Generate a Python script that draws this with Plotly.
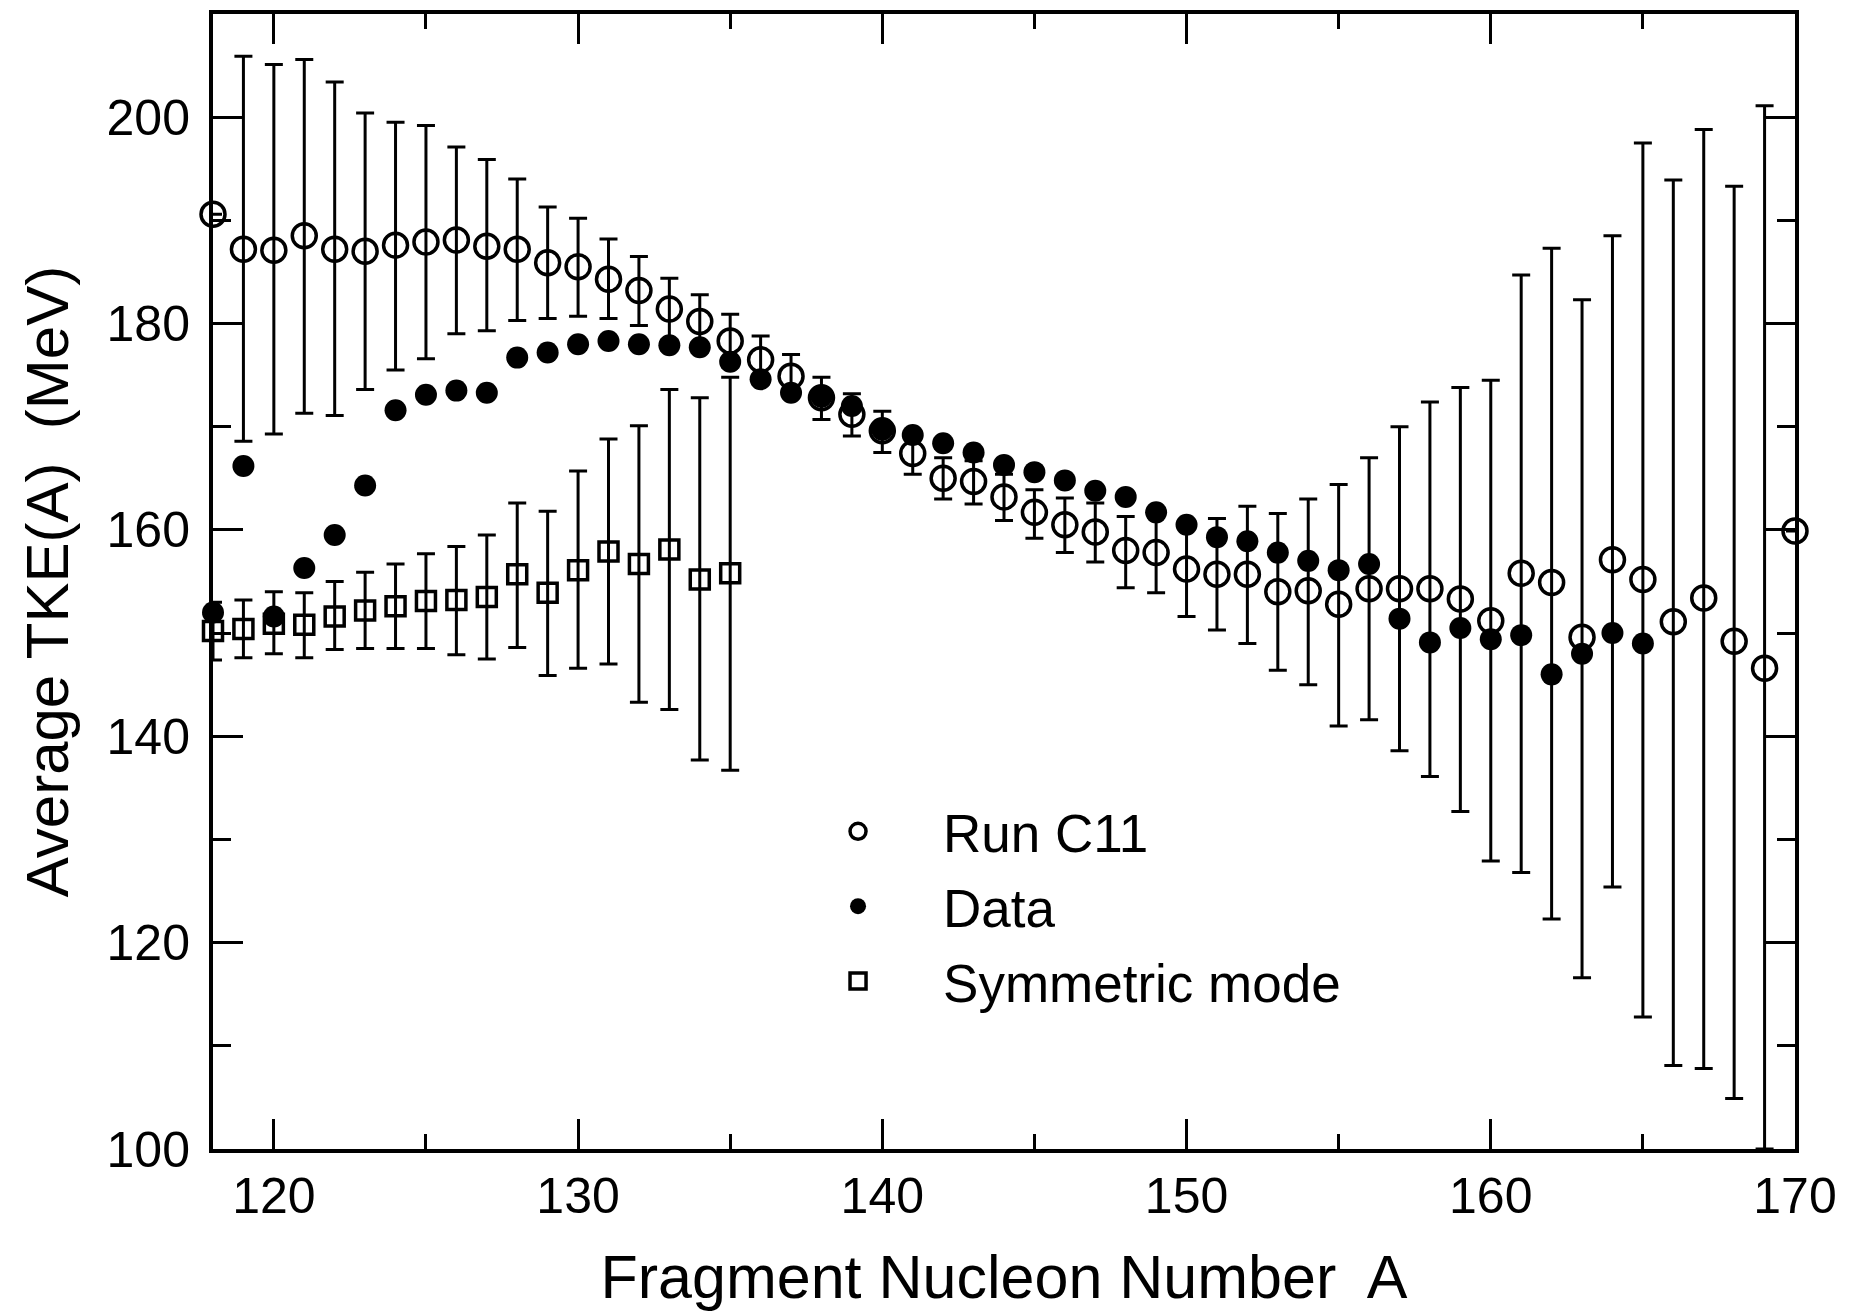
import plotly.graph_objects as go

# ---- Run C11 (model), A = 118 .. 170 ----
a_c11 = list(range(118, 171))
tke_c11 = [190.6, 187.2, 187.1, 188.5, 187.2, 187.0, 187.6, 187.9, 188.1, 187.5,
           187.2, 185.9, 185.5, 184.3, 183.2, 181.4, 180.2, 178.3, 176.5, 174.9,
           172.8, 171.2, 169.6, 167.4, 165.0, 164.7, 163.2, 161.7, 160.5, 159.8,
           158.0, 157.8, 156.2, 155.7, 155.7, 154.0, 154.1, 152.8, 154.3, 154.3,
           154.3, 153.3, 151.2, 155.8, 154.9, 149.6, 157.1, 155.2, 151.1, 153.4,
           149.2, 146.6, 159.9]
c11_high = [190.6, 205.9, 205.1, 205.6, 203.4, 200.4, 199.5, 199.2, 197.1, 195.9,
            194.0, 191.3, 190.2, 188.2, 186.5, 184.4, 182.8, 180.9, 178.8, 177.0,
            174.8, 173.2, 171.5, 169.4, 167.0, 166.7, 165.4, 163.9, 163.1, 162.6,
            161.3, 161.7, 160.8, 161.1, 162.3, 161.6, 163.0, 164.4, 167.0, 170.0,
            172.4, 173.8, 174.5, 184.7, 187.3, 182.3, 188.5, 197.5, 193.9, 198.8,
            193.3, 201.1, 159.9]
c11_low = [190.6, 168.6, 169.3, 171.3, 171.1, 173.6, 175.5, 176.6, 179.0, 179.3,
           180.3, 180.5, 180.7, 180.5, 179.8, 178.4, 177.6, 175.8, 174.2, 172.8,
           170.7, 169.1, 167.5, 165.4, 163.0, 162.5, 160.9, 159.2, 157.8, 156.9,
           154.4, 153.9, 151.6, 150.3, 149.0, 146.4, 145.0, 141.0, 141.6, 138.6,
           136.1, 132.7, 127.9, 126.8, 122.3, 116.6, 125.4, 112.8, 108.1, 107.8,
           104.9, 100.0, 159.9]

# ---- Measured data, A = 118 .. 165 ----
a_data = list(range(118, 166))
tke_data = [152.0, 166.2, 151.6, 156.3, 159.5, 164.3, 171.6, 173.1, 173.5, 173.3,
            176.7, 177.2, 178.0, 178.3, 178.0, 177.9, 177.7, 176.3, 174.6, 173.3,
            172.9, 172.0, 169.7, 169.2, 168.4, 167.5, 166.3, 165.6, 164.8, 163.8,
            163.2, 161.7, 160.5, 159.3, 158.9, 157.8, 157.0, 156.1, 156.7, 151.4,
            149.1, 150.5, 149.4, 149.8, 146.0, 148.0, 150.0, 149.0]

# ---- Symmetric mode, A = 118 .. 135 ----
a_sym = list(range(118, 136))
tke_sym = [150.2, 150.4, 150.9, 150.8, 151.6, 152.2, 152.6, 153.1, 153.2, 153.5,
           155.7, 153.9, 156.1, 157.9, 156.7, 158.1, 155.2, 155.8]
sym_high = [153.0, 153.2, 154.0, 153.9, 155.0, 155.9, 156.7, 157.7, 158.4, 159.5,
            162.6, 161.8, 165.7, 168.8, 170.1, 173.6, 172.8, 174.8]
sym_low = [147.4, 147.6, 148.0, 147.6, 148.4, 148.5, 148.5, 148.5, 147.9, 147.5,
           148.6, 145.9, 146.6, 147.0, 143.3, 142.6, 137.7, 136.7]

x_ticks = [120, 130, 140, 150, 160, 170]
y_ticks = [100, 120, 140, 160, 180, 200]

FONT = "Liberation Sans, Arial, Helvetica, sans-serif"
BLACK = "#000000"


def err(center, high, low):
    return dict(
        type="data", symmetric=False,
        array=[h - c for c, h in zip(center, high)],
        arrayminus=[c - l for c, l in zip(center, low)],
        color=BLACK, thickness=3, width=9,
    )


fig = go.Figure()

fig.add_trace(go.Scatter(
    x=a_c11, y=tke_c11, mode="markers", name="Run C11",
    legendgroup="c11",
    marker=dict(symbol="circle-open", size=24, color=BLACK, line=dict(width=3.5, color=BLACK)),
    error_y=err(tke_c11, c11_high, c11_low),
    cliponaxis=False,
))

fig.add_trace(go.Scatter(
    x=a_data, y=tke_data, mode="markers", name="Data",
    legendgroup="data",
    marker=dict(symbol="circle", size=22, color=BLACK, line=dict(width=0)),
    cliponaxis=False,
))

fig.add_trace(go.Scatter(
    x=a_sym, y=tke_sym, mode="markers", name="Symmetric mode",
    legendgroup="sym",
    marker=dict(symbol="square-open", size=19, color=BLACK, line=dict(width=3.5, color=BLACK)),
    error_y=err(tke_sym, sym_high, sym_low),
    cliponaxis=False,
))

axis_common = dict(
    showline=True, linewidth=4, linecolor=BLACK, mirror="ticks",
    ticks="inside", tickwidth=3, tickcolor=BLACK,
    showgrid=False, zeroline=False,
    tickfont=dict(family=FONT, size=50, color=BLACK),
)

fig.update_xaxes(
    range=[118, 170], tickvals=x_ticks, ticklen=30,
    minor=dict(dtick=5, tick0=0, ticks="inside", ticklen=15, tickwidth=3, tickcolor=BLACK),
    ticklabelstandoff=0,
    title=dict(text="Fragment Nucleon Number  A", font=dict(family=FONT, size=61, color=BLACK), standoff=34),
    **axis_common,
)
fig.update_yaxes(
    range=[100, 210], tickvals=y_ticks, ticklen=30,
    minor=dict(dtick=10, tick0=0, ticks="inside", ticklen=18, tickwidth=3, tickcolor=BLACK),
    ticklabelstandoff=9,
    title=dict(text="Average TKE(A)  (MeV)", font=dict(family=FONT, size=60, color=BLACK), standoff=20),
    **axis_common,
)

fig.update_layout(
    width=1849, height=1311,
    margin=dict(l=213, r=54, t=10, b=160),
    paper_bgcolor="white", plot_bgcolor="white",
    showlegend=True,
    legend=dict(
        x=0.354, y=0.316, xanchor="left", yanchor="top",
        font=dict(family=FONT, size=53, color=BLACK),
        bgcolor="rgba(0,0,0,0)", borderwidth=0,
        itemwidth=160, tracegroupgap=3,
    ),
)

fig.write_html("out.html")
